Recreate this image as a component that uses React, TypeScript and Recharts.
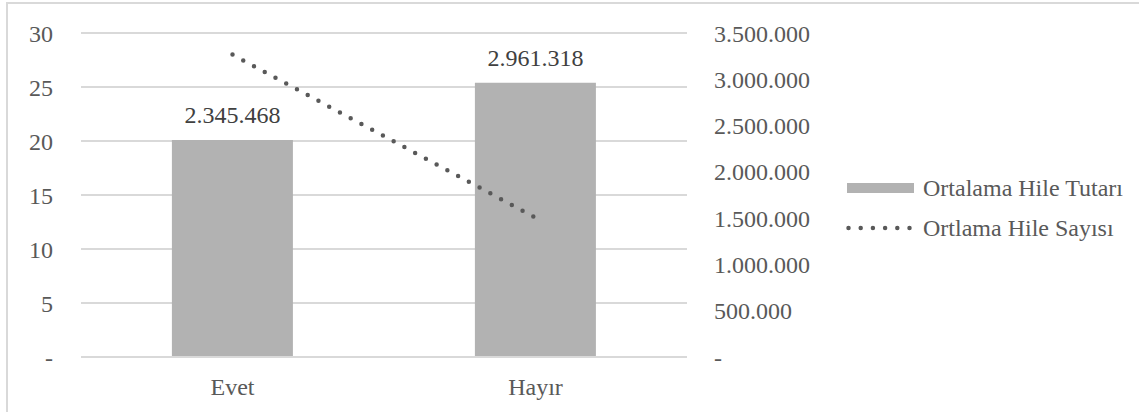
import React from 'react';
import {
  ComposedChart,
  Bar,
  Line,
  XAxis,
  YAxis,
  CartesianGrid,
  LabelList,
} from 'recharts';

const categories = ['Evet', 'Hayır'];
const ortalamaTutar = [2345468, 2961318];
const ortalamaSayi = [28, 12.9];
const leftTicks = [0, 5, 10, 15, 20, 25, 30];
const rightTicks = [0, 500000, 1000000, 1500000, 2000000, 2500000, 3000000, 3500000];
const seriesNames = ['Ortalama Hile Tutarı', 'Ortlama Hile Sayısı'];

const data = categories.map((name, i) => ({
  name,
  tutar: ortalamaTutar[i],
  sayi: ortalamaSayi[i],
}));

const FONT = 'Liberation Serif';
const FS = 24;
const TEXT = '#595959';
const BAR = '#b2b2b2';
const GRID = '#d9d9d9';

const dotted = (v: number) =>
  v === 0 ? '-' : v.toString().replace(/\B(?=(\d{3})+(?!\d))/g, '.');

const tickStyle = { fontFamily: FONT, fontSize: FS, fill: TEXT };

function LegendBox() {
  const row: React.CSSProperties = {
    display: 'flex',
    alignItems: 'center',
    height: 40,
    fontFamily: FONT,
    fontSize: FS,
    color: TEXT,
    whiteSpace: 'nowrap',
  };
  return (
    <div style={{ position: 'absolute', left: 846, top: 168 }}>
      <div style={row}>
        <svg width={77} height={12}>
          <rect x={1} y={1} width={67} height={10} fill={BAR} />
        </svg>
        <span>{seriesNames[0]}</span>
      </div>
      <div style={row}>
        <svg width={77} height={12}>
          <line
            x1={2.5}
            y1={6}
            x2={64}
            y2={6}
            stroke={TEXT}
            strokeWidth={4.5}
            strokeLinecap="round"
            strokeDasharray="0 12.2"
          />
        </svg>
        <span>{seriesNames[1]}</span>
      </div>
    </div>
  );
}

export default function App() {
  return (
    <div style={{ position: 'absolute', left: 0, top: 0, width: 1139, height: 412, overflow: 'hidden', background: '#fff', fontFamily: FONT }}>
      <div
        style={{
          position: 'absolute',
          left: 6,
          top: 2,
          width: 1160,
          height: 430,
          border: `2px solid ${GRID}`,
        }}
      />
      <ComposedChart
        width={1139}
        height={412}
        data={data}
        margin={{ top: 33, right: 322, bottom: 15, left: 0 }}
        barCategoryGap="30%"
        style={{ fontFamily: FONT }}
      >
        <CartesianGrid vertical={false} stroke={GRID} strokeWidth={2} yAxisId="left" />
        <XAxis
          dataKey="name"
          axisLine={{ stroke: GRID, strokeWidth: 2 }}
          tickLine={false}
          tickSize={0}
          tickMargin={21}
          height={40}
          tick={tickStyle}
        />
        <YAxis
          yAxisId="left"
          orientation="left"
          width={81}
          domain={[0, 30]}
          ticks={leftTicks}
          axisLine={false}
          tickLine={false}
          tickSize={0}
          tickMargin={28}
          tick={tickStyle}
          tickFormatter={dotted}
        />
        <YAxis
          yAxisId="right"
          orientation="right"
          width={130}
          domain={[0, 3500000]}
          ticks={rightTicks}
          axisLine={false}
          tickLine={false}
          tickSize={0}
          tickMargin={27}
          tick={{ ...tickStyle, textAnchor: 'start' }}
          tickFormatter={dotted}
        />
        <Bar yAxisId="right" dataKey="tutar" name={seriesNames[0]} fill={BAR} isAnimationActive={false}>
          <LabelList
            dataKey="tutar"
            position="top"
            offset={17}
            formatter={(v: number) => dotted(v)}
            fontFamily={FONT}
            fontSize={FS}
            fill="#404040"
          />
        </Bar>
        <Line
          yAxisId="left"
          type="linear"
          dataKey="sayi"
          name={seriesNames[1]}
          stroke={TEXT}
          strokeWidth={4.5}
          strokeLinecap="round"
          strokeDasharray="0 12.2"
          dot={false}
          activeDot={false}
          isAnimationActive={false}
        />
      </ComposedChart>
      <LegendBox />
    </div>
  );
}
